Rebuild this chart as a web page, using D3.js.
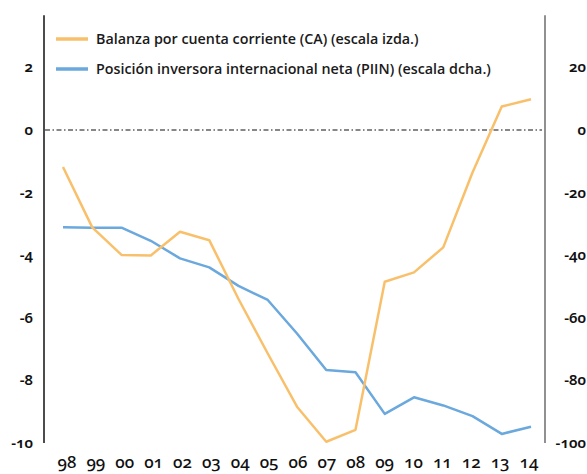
<!DOCTYPE html>
<html>
<head>
<meta charset="utf-8">
<script src="https://cdn.jsdelivr.net/npm/d3@7"></script>
<style>
  html, body { margin: 0; padding: 0; background: #fff; }
  svg { display: block; }
  .num { font-family: "Noto Sans", sans-serif; font-variant-numeric: oldstyle-nums; font-feature-settings: "onum" 1; }
</style>
</head>
<body>
<svg id="chart" width="587" height="474"></svg>
<script>
const years = ["98","99","00","01","02","03","04","05","06","07","08","09","10","11","12","13","14"];
const caValues = [-1.18, -3.11, -3.99, -4.01, -3.25, -3.52, -5.4, -7.14, -8.84, -9.96, -9.58, -4.85, -4.55, -3.75, -1.36, 0.75, 0.98];
const piinValues = [-31.1, -31.2, -31.2, -35.4, -41.0, -43.9, -49.8, -54.3, -65.0, -76.7, -77.4, -90.7, -85.4, -88.0, -91.4, -97.1, -94.8];
const leftTicks = [2, 0, -2, -4, -6, -8, -10];
const rightTicks = [20, 0, -20, -40, -60, -80, -100];
const legendLabels = ["Balanza por cuenta corriente (CA) (escala izda.)", "Posición inversora internacional neta (PIIN) (escala dcha.)"];

const svg = d3.select("#chart");
const x = d3.scalePoint().domain(years).range([63, 531]);
const xLab = d3.scalePoint().domain(years).range([67, 529]);
const yL = d3.scaleLinear().domain([-10, 0]).range([443, 130]);
const yR = d3.scaleLinear().domain([-100, 0]).range([443, 130]);
const topVal = 3.67;

const orange = "#F9C06B";
const blue = "#6AA8DD";

// axes lines
svg.append("line").attr("x1", 44).attr("x2", 44).attr("y1", yL(topVal)).attr("y2", yL(-10)).attr("stroke", "#111").attr("stroke-width", 1.5);
svg.append("line").attr("x1", 545).attr("x2", 545).attr("y1", yL(topVal)).attr("y2", yL(-10)).attr("stroke", "#555").attr("stroke-width", 1.3);

// zero line
svg.append("line").attr("x1", 45).attr("x2", 542).attr("y1", yL(0)).attr("y2", yL(0))
  .attr("stroke", "#111").attr("stroke-width", 1.2).attr("stroke-dasharray", "5,2.5,1.5,2.5");

// left tick labels
svg.append("g").selectAll("text").data(leftTicks).join("text")
  .attr("class", "num")
  .attr("x", 33).attr("y", d => yL(d)).attr("dy", "0.33em")
  .attr("text-anchor", "end").attr("font-size", 15).attr("font-weight", 600).attr("fill", "#111")
  .text(d => String(d));

// right tick labels
svg.append("g").selectAll("text").data(rightTicks).join("text")
  .attr("class", "num")
  .attr("x", 586).attr("y", d => yR(d)).attr("dy", "0.33em")
  .attr("text-anchor", "end").attr("font-size", 15).attr("font-weight", 600).attr("fill", "#111")
  .text(d => String(d));

// x labels
svg.append("g").selectAll("text").data(years).join("text")
  .attr("class", "num")
  .attr("x", d => xLab(d)).attr("y", 468)
  .attr("text-anchor", "middle").attr("font-size", 17).attr("font-weight", 500).attr("fill", "#111")
  .text(d => d);

// lines
const caLine = d3.line().x((d, i) => x(years[i])).y(d => yL(d));
const piinLine = d3.line().x((d, i) => x(years[i])).y(d => yR(d));
svg.append("path").datum(piinValues).attr("d", piinLine).attr("fill", "none").attr("stroke", blue).attr("stroke-width", 2.5).attr("stroke-linejoin", "round");
svg.append("path").datum(caValues).attr("d", caLine).attr("fill", "none").attr("stroke", orange).attr("stroke-width", 2.5).attr("stroke-linejoin", "round");

// legend
const leg = svg.append("g");
[orange, blue].forEach((c, i) => {
  const yy = 39 + i * 30;
  leg.append("line").attr("x1", 56).attr("x2", 88).attr("y1", yy).attr("y2", yy).attr("stroke", c).attr("stroke-width", 3.5);
  leg.append("text").attr("x", 96).attr("y", yy).attr("dy", "0.35em")
    .attr("font-family", "'Open Sans', sans-serif").attr("font-size", 14.3).attr("font-weight", 600).attr("fill", "#1a1a1a")
    .text(legendLabels[i]);
});
</script>
</body>
</html>
